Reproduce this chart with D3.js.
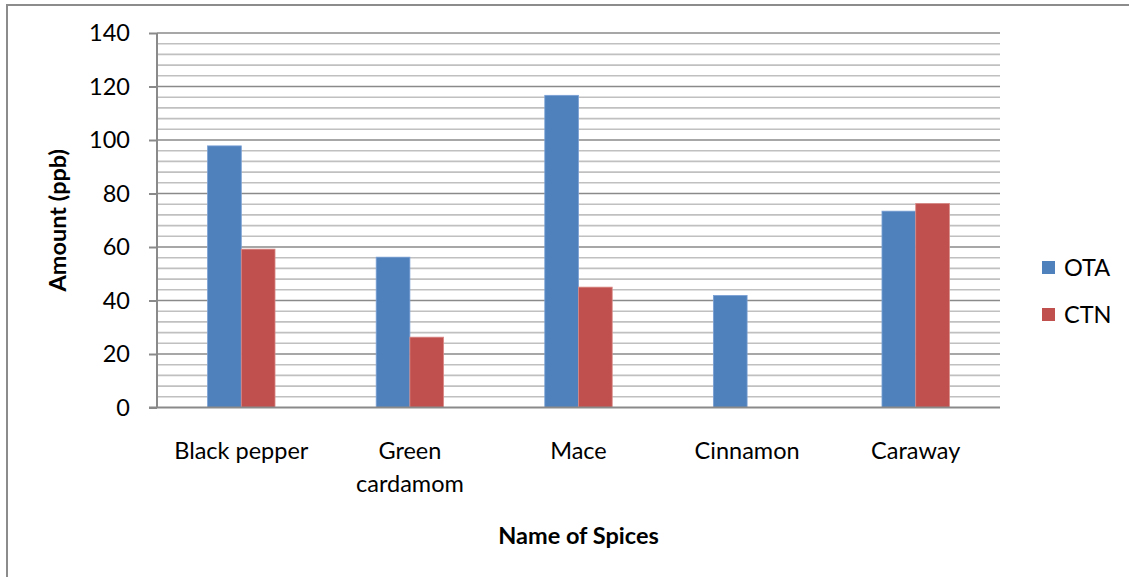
<!DOCTYPE html>
<html>
<head>
<meta charset="utf-8">
<script src="https://cdn.jsdelivr.net/npm/d3@7"></script>
<style>
  body { margin: 0; background: #fff; }
  svg { display: block; font-family: Lato, "Open Sans", "Liberation Sans", sans-serif; }
</style>
</head>
<body>
<svg id="chart" width="1129" height="577"></svg>
<script>
const categories = ["Black pepper", "Green cardamom", "Mace", "Cinnamon", "Caraway"];
const categoryLines = [["Black pepper"], ["Green", "cardamom"], ["Mace"], ["Cinnamon"], ["Caraway"]];
const seriesNames = ["OTA", "CTN"];
const otaValues = [97.8, 56.2, 116.7, 41.9, 73.4];
const ctnValues = [59.2, 26.3, 45.0, 0, 76.3];
const yTicks = [0, 20, 40, 60, 80, 100, 120, 140];
const yMinorStep = 4;
const colors = ["#4F81BD", "#C0504D"];

const svg = d3.select("#chart");
const margin = { left: 157, right: 1000, top: 33, bottom: 407.5 };
const FS = 23.5;

// outer border
svg.append("rect").attr("x", 7).attr("y", 5).attr("width", 1140).attr("height", 600)
  .attr("fill", "none").attr("stroke", "#8c8c8c").attr("stroke-width", 2);

const x = d3.scaleBand().domain(categories).range([margin.left, margin.right]).padding(0);
const y = d3.scaleLinear().domain([0, 140]).range([margin.bottom, margin.top]);

// minor gridlines
const minor = d3.range(0, 140 + 0.001, yMinorStep).filter(v => v % 20 !== 0);
svg.append("g").selectAll("line").data(minor).join("line")
  .attr("x1", margin.left).attr("x2", margin.right)
  .attr("y1", d => y(d)).attr("y2", d => y(d))
  .attr("stroke", "#c0c0c0").attr("stroke-width", 1.6);

// major gridlines
svg.append("g").selectAll("line").data(yTicks.filter(v => v > 0)).join("line")
  .attr("x1", margin.left).attr("x2", margin.right)
  .attr("y1", d => y(d)).attr("y2", d => y(d))
  .attr("stroke", "#8a8a8a").attr("stroke-width", 1.6);

// bars
const x1 = d3.scaleBand().domain(seriesNames).range([0, x.bandwidth() * 0.4]);
const groupOffset = x.bandwidth() * 0.3;
const data = categories.map((c, i) => ({ c, vals: [otaValues[i], ctnValues[i]] }));
const g = svg.append("g");
data.forEach(d => {
  d.vals.forEach((v, si) => {
    if (v <= 0) return;
    g.append("rect")
      .attr("x", x(d.c) + groupOffset + x1(seriesNames[si]))
      .attr("y", y(v))
      .attr("width", x1.bandwidth())
      .attr("height", y(0) - y(v))
      .attr("fill", colors[si])
      .attr("stroke", si === 0 ? "#7aa0d4" : "#d98b88")
      .attr("stroke-width", 0.8);
  });
});

// y axis
const yAxis = d3.axisLeft(y).tickValues(yTicks).tickSize(8).tickPadding(19);
const ya = svg.append("g").attr("transform", `translate(${margin.left},0)`).call(yAxis);
ya.select(".domain").attr("stroke", "#8a8a8a").attr("stroke-width", 2).attr("d", `M0,${margin.top}V${margin.bottom}`);
ya.selectAll(".tick line").attr("stroke", "#8a8a8a").attr("stroke-width", 2);
ya.selectAll(".tick text").attr("font-size", FS).attr("fill", "#000")
  .attr("font-family", "Lato, 'Open Sans', sans-serif");

// x axis baseline
const xAxis = d3.axisBottom(x).tickSize(0).tickFormat("");
const xa = svg.append("g").attr("transform", `translate(0,${margin.bottom})`).call(xAxis);
xa.select(".domain").attr("stroke", "#8a8a8a").attr("stroke-width", 2).attr("d", `M${margin.left - 8},0H${margin.right}`);

// category labels
categories.forEach((c, i) => {
  const t = svg.append("text").attr("text-anchor", "middle")
    .attr("font-size", FS).attr("fill", "#000")
    .attr("x", x(c) + x.bandwidth() / 2).attr("y", 459);
  categoryLines[i].forEach((ln, j) => {
    t.append("tspan").attr("x", x(c) + x.bandwidth() / 2).attr("dy", j === 0 ? 0 : 33).text(ln);
  });
});

// axis titles
svg.append("text").attr("text-anchor", "middle").attr("font-size", FS).attr("font-weight", "bold")
  .attr("x", (margin.left + margin.right) / 2).attr("y", 544).text("Name of Spices");
svg.append("text").attr("text-anchor", "middle").attr("font-size", FS).attr("font-weight", "bold")
  .attr("transform", `translate(66,${(margin.top + margin.bottom) / 2}) rotate(-90)`).text("Amount (ppb)");

// legend
const legendY = [261, 308];
seriesNames.forEach((s, i) => {
  svg.append("rect").attr("x", 1042).attr("y", legendY[i]).attr("width", 13).attr("height", 13).attr("fill", colors[i]);
  svg.append("text").attr("x", 1064).attr("y", legendY[i] + 15).attr("font-size", FS).attr("fill", "#000").text(s);
});
</script>
</body>
</html>
